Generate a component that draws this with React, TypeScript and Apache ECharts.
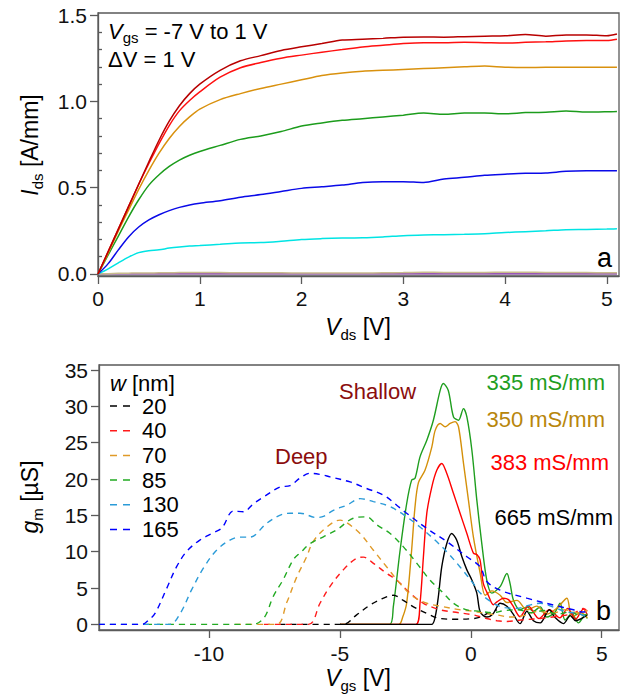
import React, { useEffect, useRef } from "react";
import * as echarts from "echarts";

const FONT = "'Liberation Sans', Arial, Helvetica, sans-serif";

// ---------- Panel a: Ids vs Vds ----------
const vds = [0, 0.1, 0.2, 0.3, 0.4, 0.5, 0.6, 0.7, 0.8, 0.9, 1.0, 1.2, 1.4, 1.6, 1.8, 2.0, 2.2, 2.4, 2.6, 2.8, 3.0, 3.2, 3.4, 3.6, 3.8, 4.0, 4.2, 4.4, 4.6, 4.8, 5.0, 5.1];
const vgsLabels = ["1 V", "0 V", "-1 V", "-2 V", "-3 V", "-4 V", "-5 V", "-6 V", "-7 V"];
const idsP1 = [0, 0.13, 0.26, 0.39, 0.52, 0.65, 0.775, 0.885, 0.975, 1.045, 1.10, 1.18, 1.235, 1.265, 1.295, 1.316, 1.335, 1.355, 1.36, 1.365, 1.372, 1.373, 1.372, 1.375, 1.378, 1.38, 1.387, 1.378, 1.385, 1.385, 1.38, 1.39];
const ids0 = [0, 0.13, 0.26, 0.39, 0.52, 0.64, 0.755, 0.86, 0.945, 1.005, 1.055, 1.14, 1.195, 1.225, 1.25, 1.268, 1.285, 1.3, 1.315, 1.325, 1.335, 1.34, 1.34, 1.342, 1.34, 1.338, 1.342, 1.345, 1.35, 1.352, 1.352, 1.36];
const idsM1 = [0, 0.12, 0.25, 0.37, 0.49, 0.6, 0.7, 0.785, 0.855, 0.91, 0.955, 1.01, 1.045, 1.075, 1.1, 1.125, 1.15, 1.165, 1.175, 1.18, 1.185, 1.19, 1.195, 1.2, 1.205, 1.198, 1.196, 1.197, 1.198, 1.198, 1.198, 1.198];
const idsM2 = [0, 0.11, 0.22, 0.33, 0.43, 0.515, 0.575, 0.623, 0.66, 0.688, 0.71, 0.745, 0.78, 0.8, 0.825, 0.857, 0.875, 0.89, 0.9, 0.91, 0.92, 0.932, 0.926, 0.932, 0.932, 0.928, 0.935, 0.937, 0.944, 0.938, 0.94, 0.942];
const idsM3 = [0, 0.06, 0.14, 0.215, 0.272, 0.313, 0.343, 0.367, 0.386, 0.4, 0.41, 0.425, 0.445, 0.46, 0.478, 0.496, 0.505, 0.515, 0.53, 0.535, 0.535, 0.53, 0.55, 0.56, 0.572, 0.578, 0.583, 0.585, 0.595, 0.598, 0.598, 0.598];
const idsM4 = [0, 0.03, 0.065, 0.098, 0.124, 0.135, 0.14, 0.15, 0.157, 0.162, 0.165, 0.172, 0.18, 0.182, 0.19, 0.2, 0.205, 0.208, 0.21, 0.215, 0.222, 0.226, 0.228, 0.23, 0.233, 0.24, 0.245, 0.25, 0.257, 0.258, 0.26, 0.262];
const idsM5 = [0, 0.002, 0.004, 0.005, 0.006, 0.006, 0.007, 0.007, 0.008, 0.008, 0.008, 0.008, 0.007, 0.007, 0.007, 0.006, 0.006, 0.006, 0.006, 0.007, 0.008, 0.01, 0.009, 0.008, 0.009, 0.01, 0.01, 0.009, 0.009, 0.008, 0.007, 0.007];
const idsM6 = [0, 0.001, 0.001, 0.002, 0.002, 0.002, 0.002, 0.002, 0.002, 0.002, 0.002, 0.002, 0.002, 0.002, 0.002, 0.002, 0.002, 0.002, 0.002, 0.002, 0.002, 0.002, 0.002, 0.002, 0.002, 0.002, 0.002, 0.002, 0.002, 0.002, 0.002, 0.002];
const idsM7 = [0, 0, 0, 0, 0, 0, 0, 0, 0, 0, 0, 0, 0, 0, 0, 0, 0, 0, 0, 0, 0, 0, 0, 0, 0, 0, 0, 0, 0, 0, 0, 0];
const idsCurves = [idsP1, ids0, idsM1, idsM2, idsM3, idsM4, idsM5, idsM6, idsM7];
const idsColors = ["#b80000", "#ff1010", "#d9910e", "#1c9c1c", "#0a0ae8", "#00e4e4", "#c8bb8c", "#9a56b8", "#a8a0a8"];

const aXTicks = [0, 1, 2, 3, 4, 5];
const aYTicks = [0, 0.5, 1.0, 1.5];
const aYMinor = [0.1, 0.2, 0.3, 0.4, 0.6, 0.7, 0.8, 0.9, 1.1, 1.2, 1.3, 1.4];

// ---------- Panel b: gm vs Vgs ----------
const widths = [20, 40, 70, 85, 130, 165];
const deepColors = ["#000000", "#ff1a1a", "#e09a28", "#22aa22", "#2b9bd8", "#0000ff"];
const deep20 = [[-7.3, 0], [-4.87, 0], [-4.36, 1.3], [-3.85, 2.65], [-3.34, 3.6], [-2.96, 4.0], [-2.58, 3.3], [-2.19, 2.4], [-1.68, 1.5], [-1.17, 0.8], [-0.53, 0.7], [0.1, 0.8], [0.36, 1.0], [0.7, 1.6], [1.0, 2.0]];
const deep40 = [[-7.9, 0], [-6.2, 0], [-5.76, 2.9], [-5.38, 5.2], [-4.87, 7.5], [-4.36, 9.1], [-4.1, 9.25], [-3.72, 8.4], [-3.21, 7.0], [-2.83, 6.1], [-2.32, 4.3], [-1.81, 2.9], [-1.17, 2.0], [-0.66, 1.7], [0.1, 1.3], [0.6, 0.8], [1.0, 0.5], [1.38, 0.4], [1.9, 0.6], [2.65, 0.8], [3.3, 1.1], [3.92, 1.5], [4.3, 2.2], [4.45, 1.8]];
const deep70 = [[-9.0, 0], [-7.42, 0], [-7.03, 3.0], [-6.65, 6.5], [-6.27, 9.3], [-6.02, 11.4], [-5.5, 13.4], [-4.99, 14.35], [-4.74, 14.0], [-4.23, 12.5], [-3.72, 10.2], [-3.21, 7.9], [-2.7, 5.6], [-2.19, 3.8], [-1.68, 2.9], [-1.17, 2.5], [-0.41, 2.0], [0.1, 1.8], [0.55, 1.5], [1.0, 1.3], [1.5, 1.0], [2.0, 1.2], [2.6, 1.8], [3.1, 1.5], [3.6, 2.0], [4.1, 1.6], [4.45, 1.9]];
const deep85 = [[-12.4, 0], [-8.3, 0], [-8.0, 0.5], [-7.8, 1.5], [-7.55, 3.8], [-7.16, 6.2], [-6.78, 8.9], [-6.5, 9.9], [-6.14, 11.1], [-5.63, 12.05], [-5.12, 13.0], [-4.49, 14.6], [-3.98, 14.8], [-3.59, 13.7], [-3.08, 12.5], [-2.58, 10.7], [-2.06, 8.4], [-1.56, 6.1], [-1.05, 4.3], [-0.66, 2.9], [-0.15, 2.0], [0.36, 1.8], [0.8, 1.6], [1.3, 1.9], [1.8, 2.0], [2.3, 1.6], [2.8, 1.9], [3.3, 1.4], [3.8, 1.7], [4.2, 1.2], [4.45, 1.4]];
const deep130 = [[-14.2, 0], [-11.5, 0], [-11.1, 1.5], [-10.67, 4.7], [-10.22, 7.7], [-9.71, 10.2], [-9.2, 11.6], [-8.83, 12.0], [-8.44, 12.0], [-7.8, 13.9], [-7.3, 15.0], [-6.9, 15.3], [-6.52, 15.3], [-5.89, 14.7], [-5.6, 14.9], [-5.25, 15.7], [-4.74, 16.4], [-4.23, 17.3], [-3.72, 16.9], [-3.08, 16.2], [-2.45, 14.8], [-1.94, 13.4], [-1.43, 11.8], [-0.92, 10.0], [-0.41, 7.9], [0.1, 5.6], [0.36, 4.3], [0.86, 2.9], [1.3, 2.3], [1.76, 2.2], [2.2, 2.6], [2.65, 2.9], [3.2, 2.3], [3.67, 1.7], [4.1, 1.5], [4.45, 1.0]];
const deep165 = [[-14.2, 0], [-12.55, 0], [-12.3, 0.6], [-12.06, 1.5], [-11.62, 4.9], [-11.24, 7.9], [-10.86, 10.0], [-10.35, 11.6], [-9.84, 12.6], [-9.5, 13.3], [-9.07, 15.6], [-8.69, 15.5], [-8.3, 16.6], [-7.93, 17.5], [-7.29, 18.9], [-6.9, 19.1], [-6.5, 20.2], [-6.14, 20.8], [-5.7, 20.6], [-5.38, 20.3], [-4.61, 19.6], [-3.98, 18.7], [-3.34, 17.8], [-2.83, 16.4], [-2.45, 15.3], [-1.68, 13.2], [-0.92, 11.4], [-0.15, 9.3], [0.36, 7.9], [0.61, 5.9], [1.12, 4.7], [2.14, 3.6], [3.16, 2.65], [3.92, 2.0], [4.3, 1.7], [4.45, 1.8]];
const deepCurves = [deep20, deep40, deep70, deep85, deep130, deep165];

const shallowLabels = ["335 mS/mm", "350 mS/mm", "383 mS/mm", "665 mS/mm"];
const shallowColors = ["#1f9e1f", "#d4900a", "#ff0000", "#000000"];
const shallowTextColors = ["#1f9e1f", "#b8860b", "#ff0000", "#000000"];
const sh335 = [[-5, 0], [-3.1, 0], [-2.96, 2.4], [-2.7, 10.2], [-2.45, 16.6], [-2.26, 19.85], [-2.13, 20.1], [-1.94, 23.05], [-1.68, 25.35], [-1.43, 28.1], [-1.17, 32.2], [-1.05, 33.15], [-0.86, 32.2], [-0.66, 28.55], [-0.47, 28.1], [-0.28, 29.7], [-0.15, 28.55], [0.04, 24.0], [0.23, 17.1], [0.42, 11.1], [0.61, 6.1], [0.8, 4.3], [1.12, 5.2], [1.38, 7.0], [1.5, 5.6], [1.63, 3.3], [1.88, 2.0], [2.14, 2.4], [2.39, 1.8], [2.65, 2.4], [2.9, 1.0], [3.22, 1.7], [3.41, 2.9], [3.6, 0.6], [3.86, 1.5], [4.11, 0.2], [4.36, 1.2], [4.45, 0.8]];
const sh350 = [[-5, 0], [-2.75, 0], [-2.6, 1.0], [-2.45, 2.9], [-2.26, 10.2], [-2.13, 16.2], [-2.0, 19.5], [-1.75, 21.2], [-1.49, 24.4], [-1.36, 26.7], [-1.17, 27.65], [-0.98, 27.2], [-0.79, 27.65], [-0.6, 27.9], [-0.47, 27.2], [-0.28, 22.2], [-0.09, 17.1], [0.1, 12.0], [0.36, 7.0], [0.55, 4.0], [0.8, 4.6], [1.12, 4.0], [1.38, 3.0], [1.76, 3.3], [2.14, 2.0], [2.52, 2.5], [2.9, 1.4], [3.28, 2.2], [3.67, 3.6], [3.86, 1.0], [4.2, 1.6], [4.45, 0.9]];
const sh383 = [[-5, 0], [-2.1, 0], [-1.94, 2.9], [-1.81, 9.3], [-1.68, 15.3], [-1.49, 18.9], [-1.3, 21.2], [-1.11, 22.15], [-0.92, 20.8], [-0.66, 18.0], [-0.41, 15.3], [-0.15, 12.5], [0.1, 9.8], [0.23, 9.6], [0.35, 8.9], [0.48, 5.6], [0.67, 4.0], [0.86, 2.7], [1.0, 3.1], [1.25, 3.6], [1.44, 3.4], [1.6, 2.6], [1.88, 1.05], [2.2, 2.5], [2.6, 0.8], [3.0, 2.0], [3.4, 0.9], [3.7, 2.2], [4.0, 0.7], [4.3, 2.1], [4.45, 1.3]];
const sh665 = [[-5, 0], [-1.5, 0], [-1.36, 1.05], [-1.24, 3.8], [-1.11, 7.9], [-0.92, 11.1], [-0.73, 12.5], [-0.54, 11.6], [-0.34, 9.3], [-0.15, 7.5], [0.04, 6.1], [0.23, 4.3], [0.36, 1.7], [0.61, 1.0], [0.86, 1.5], [1.12, 2.9], [1.38, 2.5], [1.6, 1.5], [1.88, 0.1], [2.14, 1.8], [2.39, 0.5], [2.65, 0.2], [3.0, 2.0], [3.2, 1.0], [3.54, 0.1], [3.8, 1.2], [4.0, 0.5], [4.45, 1.3]];
const shallowCurves = [sh335, sh350, sh383, sh665];

const bXTicks = [-10, -5, 0, 5];
const bYTicks = [0, 5, 10, 15, 20, 25, 30, 35];

const AXIS_COLOR = "#5a5a5a";

function axisBase(extra: any) {
  return {
    type: "value",
    axisLine: { show: true, onZero: false, lineStyle: { color: AXIS_COLOR, width: 1.3 } },
    splitLine: { show: false },
    ...extra,
  };
}

export default function App() {
  const ref = useRef<HTMLDivElement>(null);
  useEffect(() => {
    if (!ref.current) return;
    const chart = echarts.init(ref.current, undefined, { renderer: "svg" });

    const labelStyle = { fontSize: 21, color: "#111", fontFamily: FONT };

    const series: any[] = [];
    idsCurves.forEach((c, i) => {
      series.push({
        name: "Vgs " + vgsLabels[i],
        type: "line",
        xAxisIndex: 0,
        yAxisIndex: 0,
        data: vds.map((x, k) => [x, c[k]]),
        showSymbol: false,
        symbol: "none",
        smooth: 0.3,
        lineStyle: { color: idsColors[i], width: 1.5 },
        z: 10 - i,
      });
    });
    shallowCurves.forEach((c, i) => {
      series.push({
        name: shallowLabels[i],
        type: "line",
        xAxisIndex: 1,
        yAxisIndex: 2,
        data: c,
        showSymbol: false,
        symbol: "none",
        smooth: 0.3,
        lineStyle: { color: shallowColors[i], width: 1.4 },
        z: 3,
      });
    });
    deepCurves.forEach((c, i) => {
      series.push({
        name: "w " + widths[i] + " nm",
        type: "line",
        xAxisIndex: 1,
        yAxisIndex: 2,
        data: c,
        showSymbol: false,
        symbol: "none",
        smooth: 0.35,
        lineStyle: { color: deepColors[i], width: 1.4, type: [6, 5] },
        z: 4,
      });
    });

    const legendItems: any[] = [];
    legendItems.push({
      type: "text",
      x: 110,
      y: 383,
      style: {
        text: "{it|w}{n| [nm]}",
        verticalAlign: "middle",
        rich: {
          it: { fontSize: 22, fontStyle: "italic", fontFamily: FONT, fill: "#000" },
          n: { fontSize: 22, fontFamily: FONT, fill: "#000" },
        },
      },
    });
    widths.forEach((w, i) => {
      const y = 406 + i * 24.7;
      legendItems.push({
        type: "line",
        shape: { x1: 110, y1: y, x2: 134, y2: y },
        style: { stroke: deepColors[i], lineWidth: 1.5, lineDash: [7, 6] },
      });
      legendItems.push({
        type: "text",
        x: 142,
        y: y,
        style: { text: String(w), font: `22px ${FONT}`, fill: "#000", verticalAlign: "middle" },
      });
    });

    const titleRich = {
      it: { fontSize: 23, fontStyle: "italic", fontFamily: FONT, fill: "#000", lineHeight: 30 },
      sub: { fontSize: 15, fontFamily: FONT, fill: "#000", lineHeight: 15, verticalAlign: "bottom" },
      n: { fontSize: 23, fontFamily: FONT, fill: "#000", lineHeight: 30 },
    };
    const annRich = {
      it: { fontSize: 22, fontStyle: "italic", fontFamily: FONT, fill: "#000", lineHeight: 28 },
      sub: { fontSize: 15, fontFamily: FONT, fill: "#000", lineHeight: 15, verticalAlign: "bottom" },
      n: { fontSize: 22, fontFamily: FONT, fill: "#000", lineHeight: 28 },
    };

    const annotations: any[] = [
      { type: "text", x: 108, y: 31, style: { text: "{it|V}{sub|gs}{n| = -7 V to 1 V}", rich: annRich, verticalAlign: "middle" } },
      { type: "text", x: 108, y: 59, style: { text: "ΔV = 1 V", font: `22px ${FONT}`, fill: "#000", verticalAlign: "middle" } },
      { type: "text", x: 612, y: 258, style: { text: "a", font: `27px ${FONT}`, fill: "#000", align: "right", verticalAlign: "middle" } },
      { type: "text", x: 611, y: 611, style: { text: "b", font: `27px ${FONT}`, fill: "#000", align: "right", verticalAlign: "middle" } },
      { type: "text", x: 30, y: 145, rotation: Math.PI / 2, style: { text: "{it|I}{sub|ds}{n| [A/mm]}", rich: titleRich, align: "center", verticalAlign: "middle" } },
      { type: "text", x: 358, y: 327, style: { text: "{it|V}{sub|ds}{n| [V]}", rich: titleRich, align: "center", verticalAlign: "middle" } },
      { type: "text", x: 30, y: 497, rotation: Math.PI / 2, style: { text: "{it|g}{sub|m}{n| [µS]}", rich: titleRich, align: "center", verticalAlign: "middle" } },
      { type: "text", x: 358, y: 678, style: { text: "{it|V}{sub|gs}{n| [V]}", rich: titleRich, align: "center", verticalAlign: "middle" } },
      { type: "text", x: 339, y: 391, style: { text: "Shallow", font: `22px ${FONT}`, fill: "#8b0d0d", verticalAlign: "middle" } },
      { type: "text", x: 275, y: 456, style: { text: "Deep", font: `22px ${FONT}`, fill: "#8b0d0d", verticalAlign: "middle" } },
    ];
    const annY = [382, 419, 462, 517];
    const annX = [605, 605, 609, 613];
    shallowLabels.forEach((t, i) => {
      annotations.push({
        type: "text",
        x: annX[i],
        y: annY[i],
        style: { text: t, font: `22px ${FONT}`, fill: shallowTextColors[i], align: "right", verticalAlign: "middle" },
      });
    });

    const option: any = {
      animation: false,
      backgroundColor: "#fff",
      grid: [
        { left: 98, top: 13, width: 521, height: 263, show: true, borderColor: AXIS_COLOR, borderWidth: 1.3, backgroundColor: "transparent" },
        { left: 99, top: 365, width: 520, height: 265, show: true, borderColor: AXIS_COLOR, borderWidth: 1.3, backgroundColor: "transparent" },
      ],
      xAxis: [
        axisBase({
          gridIndex: 0, min: 0, max: 5.12,
          axisTick: { show: true, length: 8, customValues: aXTicks, lineStyle: { color: AXIS_COLOR, width: 1.3 } },
          axisLabel: { ...labelStyle, margin: 12, customValues: aXTicks },
        }),
        axisBase({
          gridIndex: 1, min: -14.2, max: 5.66,
          axisTick: { show: true, length: 8, customValues: bXTicks, lineStyle: { color: AXIS_COLOR, width: 1.3 } },
          axisLabel: { ...labelStyle, margin: 13, customValues: bXTicks },
        }),
      ],
      yAxis: [
        axisBase({
          gridIndex: 0, min: -0.0116, max: 1.512,
          axisTick: { show: true, length: 8, customValues: aYTicks, lineStyle: { color: AXIS_COLOR, width: 1.3 } },
          axisLabel: { ...labelStyle, margin: 11, customValues: aYTicks, formatter: (v: number) => v.toFixed(1) },
        }),
        axisBase({
          gridIndex: 0, min: -0.0116, max: 1.512,
          axisLine: { show: false },
          axisTick: { show: true, length: 4, customValues: aYMinor, lineStyle: { color: AXIS_COLOR, width: 1.3 } },
          axisLabel: { show: false },
        }),
        axisBase({
          gridIndex: 1, min: -0.78, max: 35.7,
          axisTick: { show: true, length: 8, customValues: bYTicks, lineStyle: { color: AXIS_COLOR, width: 1.3 } },
          axisLabel: { ...labelStyle, margin: 11, customValues: bYTicks },
        }),
      ],
      series,
      graphic: [...annotations, ...legendItems],
    };
    chart.setOption(option);
    return () => chart.dispose();
  }, []);

  return (
    <div
      ref={ref}
      style={{ position: "absolute", left: 0, top: 0, width: 628, height: 699, background: "#fff" }}
    />
  );
}
